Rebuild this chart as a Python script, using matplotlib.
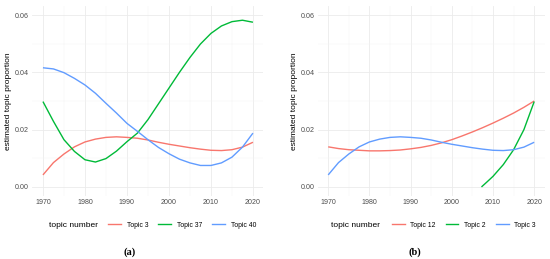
import matplotlib
matplotlib.use("Agg")
import matplotlib.pyplot as plt
from matplotlib.lines import Line2D

matplotlib.rcParams.update({
    "font.family": ["Liberation Sans", "DejaVu Sans"],
    "figure.facecolor": "white",
    "axes.facecolor": "white",
})

# ggplot default hue palette for three groups
COLORS = ["#F8766D", "#00BA38", "#619CFF"]

YEARS = [1970, 1972.5, 1975, 1977.5, 1980, 1982.5, 1985, 1987.5, 1990, 1992.5, 1995,
         1997.5, 2000, 2002.5, 2005, 2007.5, 2010, 2012.5, 2015, 2017.5, 2020]

TOPIC_3 = [0.0042, 0.0085, 0.0115, 0.0140, 0.0157, 0.0167, 0.0173, 0.0175, 0.0173, 0.0170, 0.0164,
           0.0156, 0.0149, 0.0143, 0.0137, 0.0132, 0.0128, 0.0127, 0.0130, 0.0139, 0.0156]
TOPIC_37 = [0.0298, 0.0229, 0.0165, 0.0124, 0.0095, 0.0087, 0.0099, 0.0125, 0.0158, 0.0188, 0.0235,
            0.0290, 0.0345, 0.0400, 0.0452, 0.0499, 0.0536, 0.0562, 0.0577, 0.0582, 0.0575]
TOPIC_40 = [0.0416, 0.0412, 0.0399, 0.0379, 0.0356, 0.0327, 0.0292, 0.0258, 0.0222, 0.0194, 0.0165,
            0.0138, 0.0116, 0.0097, 0.0084, 0.0075, 0.0075, 0.0084, 0.0104, 0.0139, 0.0188]
TOPIC_12 = [0.0140, 0.0134, 0.0130, 0.0128, 0.0126, 0.0126, 0.0127, 0.0129, 0.0133, 0.0138, 0.0145,
            0.0154, 0.0165, 0.0178, 0.0192, 0.0207, 0.0223, 0.0240, 0.0258, 0.0278, 0.0300]
YEARS_T2 = [2007.2, 2008.5, 2010, 2012.5, 2015, 2017.5, 2020]
TOPIC_2 = [0.0, 0.0017, 0.0037, 0.0078, 0.0130, 0.0200, 0.0298]

PANELS = [
    {"rect": [0.059, 0.245, 0.42, 0.73], "caption": "(a)", "cap_x": 0.235,
     "title_x": 0.133, "leg_x": 0.197,
     "series": [("Topic 3", YEARS, TOPIC_3), ("Topic 37", YEARS, TOPIC_37),
                ("Topic 40", YEARS, TOPIC_40)]},
    {"rect": [0.578, 0.245, 0.412, 0.73], "caption": "(b)", "cap_x": 0.755,
     "title_x": 0.646, "leg_x": 0.712,
     "series": [("Topic 12", YEARS, TOPIC_12), ("Topic 2", YEARS_T2, TOPIC_2),
                ("Topic 3", YEARS, TOPIC_3)]},
]

fig = plt.figure(figsize=(5.5, 2.59), dpi=100)

for panel in PANELS:
    ax = fig.add_axes(panel["rect"])
    for (name, xs, ys), col in zip(panel["series"], COLORS):
        ax.plot(xs, ys, color=col, lw=1.0, solid_capstyle="butt")
    ax.set_xlim(1967.5, 2022.5)
    ax.set_ylim(-0.003, 0.063)
    ax.set_xticks([1970, 1980, 1990, 2000, 2010, 2020])
    ax.set_xticks([1975, 1985, 1995, 2005, 2015], minor=True)
    ax.set_yticks([0.0, 0.02, 0.04, 0.06])
    ax.set_yticks([0.01, 0.03, 0.05], minor=True)
    ax.set_yticklabels(["0.00", "0.02", "0.04", "0.06"])
    ax.grid(True, which="major", color="#EBEBEB", lw=0.6)
    ax.grid(True, which="minor", color="#F3F3F3", lw=0.35)
    ax.set_axisbelow(True)
    for s in ax.spines.values():
        s.set_visible(False)
    ax.tick_params(which="both", length=0, labelsize=5.1, labelcolor="#4D4D4D", pad=2.5)
    ax.set_ylabel("estimated topic proportion", fontsize=6.0, labelpad=2)

    fig.text(panel["title_x"], 0.131, "topic number", fontsize=6.0, ha="center", va="center")
    handles = [Line2D([], [], color=c, lw=1.0) for c in COLORS]
    labels = [s[0] for s in panel["series"]]
    fig.legend(handles, labels, loc="center left", bbox_to_anchor=(panel["leg_x"], 0.131),
               ncol=3, frameon=False, fontsize=4.9, handlelength=1.9, handletextpad=0.8,
               columnspacing=1.5, borderaxespad=0, borderpad=0)
    fig.text(panel["cap_x"], 0.027, panel["caption"], fontsize=7.5, ha="center", va="center",
             family=["Liberation Serif", "DejaVu Serif"], fontweight="bold")

fig.savefig("out.png", dpi=100)
